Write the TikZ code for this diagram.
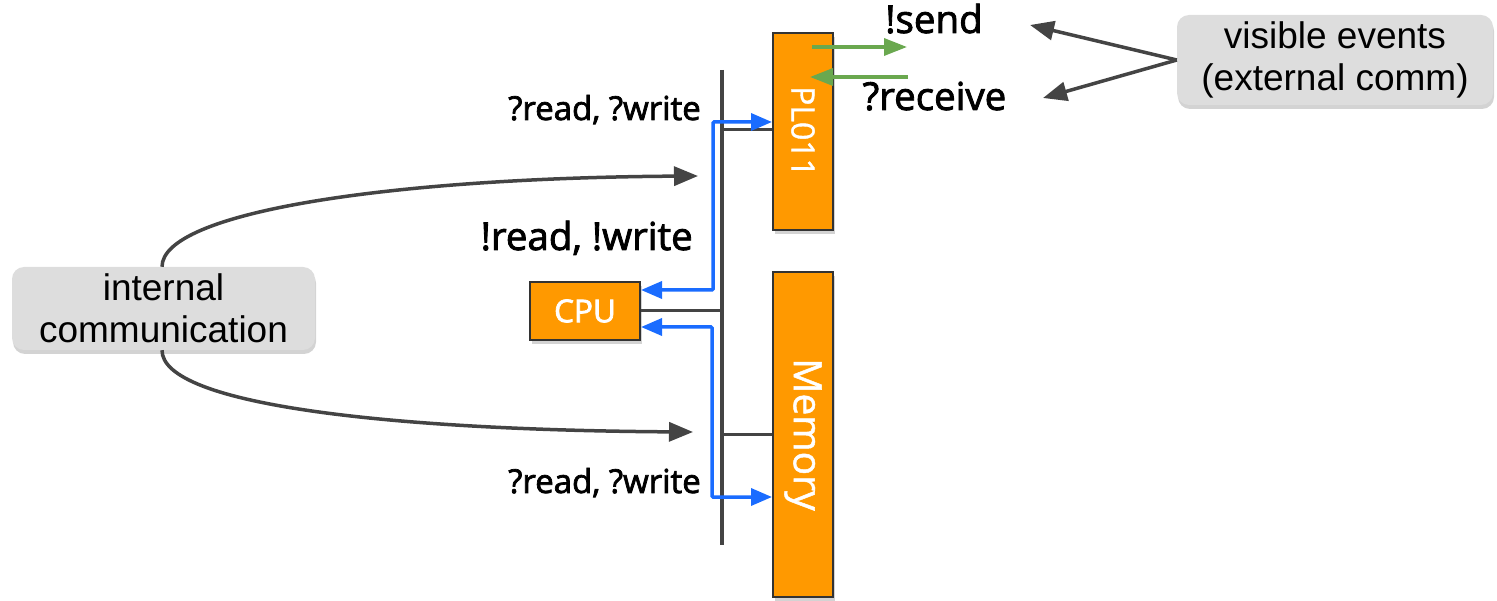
\documentclass[tikz,border=0pt]{standalone}
\usepackage{fontspec}
\setmainfont{Open Sans}
\newfontfamily\semifont[FakeBold=2.2]{Open Sans}
\newfontfamily\chipfont[FakeBold=1.2]{Open Sans}
\newfontfamily\arialfont{Liberation Sans}
\usetikzlibrary{arrows.meta,shadows,calc}

\definecolor{chiporange}{HTML}{FF9900}
\definecolor{chipedge}{HTML}{333333}
\definecolor{busgray}{HTML}{444444}
\definecolor{notegray}{HTML}{DDDDDD}
\definecolor{flowblue}{HTML}{1A6CFF}
\definecolor{extgreen}{HTML}{6AA84F}

\tikzset{
  chip/.style={draw=chipedge, line width=2pt, fill=chiporange,
    drop shadow={opacity=0.35, shadow xshift=2pt, shadow yshift=-4pt},
    inner sep=0pt, text=white},
  chiplabel/.style={font=\chipfont\fontsize{32}{36}\selectfont, text=white},
  note/.style={fill=notegray, rounded corners=12pt, inner sep=0pt,
    drop shadow={opacity=0.35, shadow xshift=1pt, shadow yshift=-4pt},
    align=center, font=\arialfont\fontsize{37}{42}\selectfont},
  bus/.style={draw=busgray, line width=4pt},
  stub/.style={draw=busgray, line width=3pt},
  pointer/.style={draw=busgray, line width=3.5pt, -{Triangle[length=24pt,width=19pt]}},
  bluepath/.style={draw=flowblue, line width=3.5pt, rounded corners=1pt,
    {Triangle[length=21pt,width=17pt]}-{Triangle[length=21pt,width=17pt]}},
  greenarrow/.style={draw=extgreen, line width=3.5pt, -{Triangle[length=23pt,width=17pt]}},
  evt/.style={inner sep=0pt, font=\semifont\fontsize{33}{38}\selectfont},
  bigevt/.style={inner sep=0pt, font=\semifont\fontsize{38.5}{44}\selectfont},
}

\begin{document}
\begin{tikzpicture}[x=1pt, y=-1pt]
  \useasboundingbox (0,0) rectangle (1497,601);

  % peripherals and processor
  \node[chip, minimum width=60pt, minimum height=197pt,
        label={[chiplabel, rotate=-90]center:PL011}] (pl) at (803,131.5) {};
  \node[chip, minimum width=60pt, minimum height=325pt,
        label={[chiplabel, rotate=-90, font=\chipfont\fontsize{39}{44}\selectfont]center:Memory}] (mem) at (803,434.5) {};
  \node[chip, minimum width=110pt, minimum height=58pt,
        font=\semifont\fontsize{31.5}{36}\selectfont] (cpu) at (585,311) {CPU};

  % system bus
  \coordinate (bt) at (722,70);
  \coordinate (bb) at (722,545);
  \draw[bus] (bt) -- (bb);
  \draw[stub] (bt |- 0,130) -- (pl.west |- 0,130);
  \draw[stub] (cpu.east |- 0,311) -- (bt |- 0,311);
  \draw[stub] (bt |- 0,435) -- (mem.west |- 0,435);

  % bus transactions
  \coordinate (b1) at (713,122);
  \coordinate (b2) at (713,290);
  \coordinate (b3) at (712,327);
  \coordinate (b4) at (712,497);
  \draw[bluepath] (cpu.east |- b2) -- (b2) -- (b1) -- (pl.west |- b1);
  \draw[bluepath] (cpu.east |- b3) -- (b3) -- (b4) -- (mem.west |- b4);

  % external traffic of the UART
  \coordinate (s0) at (812,47);
  \coordinate (s1) at (907,47);
  \coordinate (r0) at (908,77);
  \coordinate (r1) at (810,77);
  \draw[greenarrow] (s0) -- (s1);
  \draw[greenarrow] (r0) -- (r1);

  % event labels
  \node[bigevt, anchor=base] (send) at (934,33) {!send};
  \node[bigevt, anchor=base] (recv) at (934.5,110) {?receive};
  \node[evt, anchor=base east] (rw1) at (701,120) {?read, ?write};
  \node[bigevt, anchor=base east] (rw0) at (693,250) {!read, !write};
  \node[evt, anchor=base east] (rw2) at (701,493) {?read, ?write};

  % annotations
  \node[note, minimum width=316pt, minimum height=90pt] (vis) at (1335,60)
    {visible events\\(external comm)};
  \node[note, minimum width=303pt, minimum height=83pt] (intl) at (163.5,308.5)
    {internal\\communication};

  \coordinate (v1) at (1030,25);
  \coordinate (v2) at (1043,98);
  \draw[pointer] (vis.west) -- (v1);
  \draw[pointer] (vis.west) -- (v2);

  \coordinate (i1) at (698,176);
  \coordinate (i2) at (693,432);
  \draw[pointer] (intl.north -| 162,0) .. controls (162,212) and (390,178) .. (i1);
  \draw[pointer] (intl.south -| 162,0) .. controls (162,405) and (390,430) .. (i2);
\end{tikzpicture}
\end{document}
